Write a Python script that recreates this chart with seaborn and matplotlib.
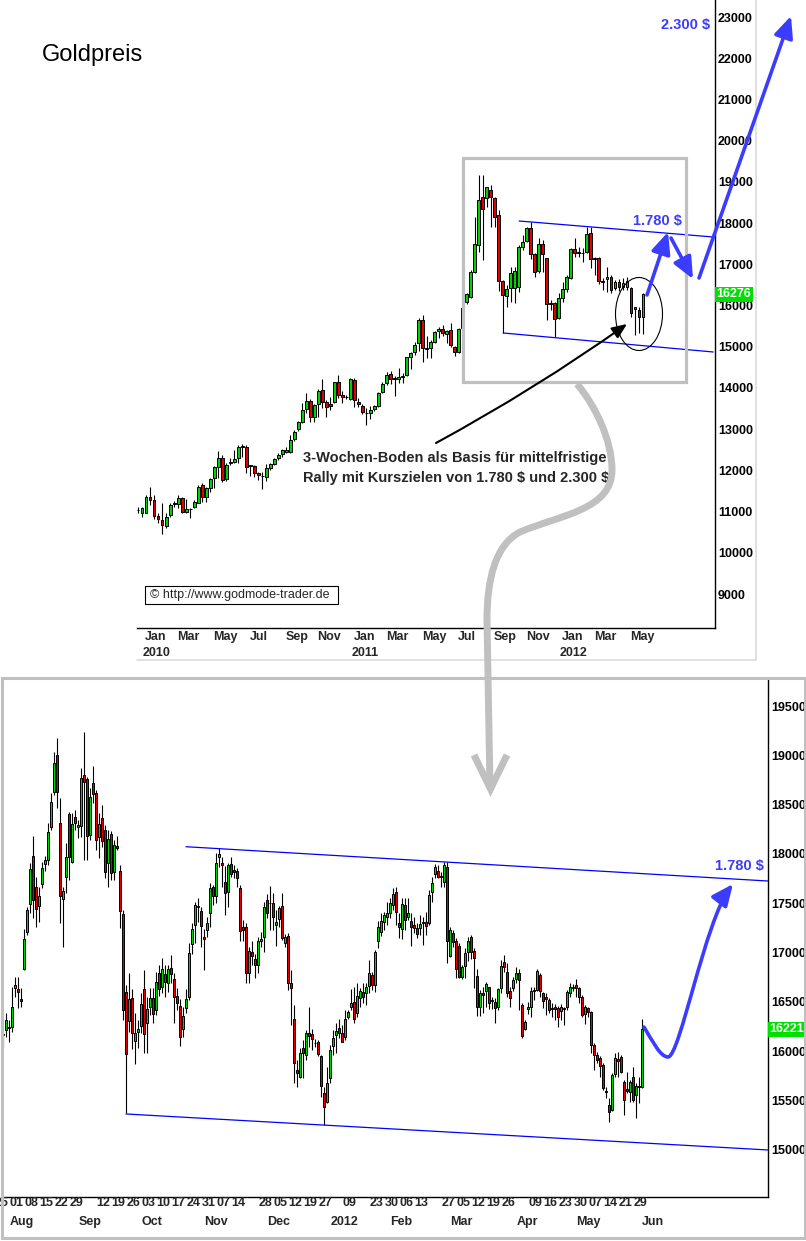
import numpy as np
import pandas as pd
import matplotlib
matplotlib.use("Agg")
import matplotlib.pyplot as plt
import matplotlib.transforms as mtransforms
from matplotlib.patches import Rectangle, Ellipse, FancyArrowPatch, PathPatch
from matplotlib.path import Path
from matplotlib.lines import Line2D
import seaborn as sns

# ------------------------------------------------------------------ data
# weekly gold price (x10 USD), Jan 2010 - end of May 2012
weekly_open = [11040,10975,10975,11363,11282,10894,10797,10651,10910,11177,
11177,11339,11000,11064,11104,11217,11646,11363,11582,11808,
12075,12293,11784,12172,12213,12293,12560,12560,12124,12107,
11929,11865,11849,12051,12156,12293,12399,12455,12455,12755,
12997,13183,13482,13693,13288,13612,13952,13669,13604,13653,
14138,13822,13782,13725,14195,13669,13572,13401,13385,13482,
13564,13895,14114,14340,14240,14227,14259,14316,14761,14882,
15101,15651,14963,14963,15125,15376,15424,15311,15408,14987,
14866,15449,16096,16217,16824,17471,18628,18604,18806,18604,
18199,16605,16233,16419,16419,16444,17414,17576,17876,17253,
16848,17495,17147,16071,16071,15691,16177,16395,16662,17366,
17301,17285,17293,17754,17147,17164,16589,16638,16703,16419,
16581,16444,16460,16419,15910,15894,15732]
weekly_high = [11120,11120,11403,11590,11403,10959,11217,10959,11201,11266,
11403,11363,11298,11080,11282,11646,11687,11590,11808,12107,
12479,12374,12188,12293,12496,12617,12641,12617,12132,12132,
11970,11970,12156,12172,12293,12415,12528,12560,12860,12981,
13208,13644,13871,13725,13612,13968,14211,13709,13790,14154,
14316,13936,13830,14235,14235,13750,13612,13507,13564,13588,
13895,14154,14397,14421,14292,14478,14356,14761,14882,15125,
15691,15772,15263,15165,15392,15489,15529,15408,15570,15020,
15449,15974,16314,16864,18159,19170,19170,18887,18927,18644,
18320,16622,16500,16945,16945,17471,17714,17916,18037,17269,
17633,17592,17164,16136,16096,16298,16581,16743,17390,17633,
17431,17390,17916,17916,17188,17188,16662,16945,16743,16622,
16638,16662,16703,16460,15974,15974,16298]
weekly_low = [10975,10862,10959,11161,10813,10732,10457,10595,10878,11120,
11080,10959,10975,10838,11080,11201,11242,11242,11484,11565,
11808,11727,11752,12132,12172,12172,12334,11929,11865,11849,
11768,11541,11752,12010,12132,12253,12334,12415,12415,12722,
12965,13143,13385,13183,13183,13288,13507,13288,13466,13628,
13750,13628,13725,13709,13531,13548,13369,13102,13240,13450,
13548,13871,14073,14098,13806,14130,14130,14292,14453,14801,
14907,14640,14720,14720,15101,15206,15263,15085,14987,14777,
14842,15408,16039,16177,16800,17309,17107,18402,17916,17916,
16363,15327,15974,16096,16055,16338,17350,17552,17123,16686,
16783,16824,15651,15894,15246,15667,16096,16338,16638,17172,
17172,17067,17269,16905,16743,16525,16379,16338,16314,16379,
16363,16379,16379,15732,15287,15327,15311]
weekly_close = [11050,11080,11363,11282,10894,10829,10667,10862,11153,11217,
11323,11000,11056,11056,11242,11590,11363,11565,11784,12075,
12293,11768,12132,12213,12269,12577,12600,12075,12107,11929,
11881,11873,12051,12156,12269,12374,12496,12496,12738,12941,
13167,13466,13693,13288,13588,13936,13669,13531,13572,14138,
13830,13774,13790,14211,13709,13604,13426,13393,13466,13564,
13871,14089,14316,14219,14230,14276,14292,14745,14858,15036,
15651,14963,14955,15125,15368,15433,15327,15392,15044,14866,
15424,15934,16274,16824,17495,18563,18337,18871,18628,18159,
16605,16258,16395,16800,16840,17414,17552,17876,17253,16824,
17495,17253,16031,16039,15683,16177,16403,16686,17374,17285,
17269,17277,17738,17131,17123,16605,16581,16686,16379,16581,
16444,16541,16605,15813,15967,15732,16276]

# daily gold price (x10 USD), 28 Jul 2011 - 1 Jun 2012
daily_open = [16160,16214,16231,16241,16637,16630,16525,16829,17212,17492,
17979,17668,17475,17695,17894,17938,18277,18632,19003,18310,
17539,17769,18402,17922,18371,18270,18283,18801,18757,18192,
18716,18615,18175,18368,18243,17911,18202,17820,18080,17827,
17387,16603,16305,16535,16106,16197,16258,16627,16282,16444,
16535,16417,16789,16654,16779,16694,16840,16728,16562,16458,
16221,16441,16552,17086,17279,17465,17421,17154,17228,17398,
17661,17573,17966,17911,17712,17610,17894,17837,17827,17651,
17255,17255,16796,17002,16931,16870,17117,17154,17529,17506,
17506,17279,17337,17472,17100,17168,16688,16322,15808,15741,
16035,15961,16180,16174,16086,16096,15950,15579,15487,15724,
16052,16163,16231,16187,16147,16343,16444,16502,16383,16535,
16603,16586,16661,16772,16671,17120,17211,17313,17357,17404,
17482,17617,17303,17235,17482,17357,17320,17279,17245,17245,
17313,17306,17296,17617,17793,17827,17769,17719,17871,16965,
17195,17120,17066,16755,16863,17009,17154,17015,16762,16444,
16586,16613,16647,16518,16502,16451,16637,16901,16799,16613,
16637,16728,16789,16468,16224,16424,16444,16610,16620,16769,
16586,16552,16518,16441,16451,16434,16410,16434,16451,16586,
16644,16671,16637,16552,16376,16434,16400,16062,15961,15927,
15859,15596,15453,15403,15768,15917,15937,15690,15612,15589,
15741,15555,15646,15633]
daily_high = [16215,16383,16316,16654,16755,16755,16637,17235,17465,17905,
18182,17769,17668,17922,17979,18310,18615,19037,19172,18564,
17668,18107,18429,18412,18446,18344,18868,19240,18784,18665,
18892,18648,18412,18496,18293,18243,18236,18141,18182,17888,
17431,16671,16796,16627,16390,16316,16586,16823,16552,16637,
16637,16806,16873,16941,16873,16873,16975,16789,16637,16525,
16451,16627,17100,17296,17516,17550,17465,17235,17357,17702,
17685,18006,18057,17972,17878,17905,17972,17888,17854,17685,
17330,17296,17059,17120,16985,17161,17212,17516,17594,17675,
17600,17431,17472,17600,17188,17195,16823,16468,15910,16028,
16113,16214,16451,16221,16120,16113,15961,15640,15842,16062,
16214,16282,16322,16265,16417,16417,16627,16654,16688,16637,
16688,16688,16924,16806,17026,17320,17398,17414,17516,17550,
17651,17668,17404,17550,17550,17550,17398,17364,17296,17381,
17364,17414,17634,17769,17898,17888,17820,17922,17922,17262,
17228,17144,17093,16873,17042,17161,17178,17042,16829,16620,
16654,16704,16654,16552,16535,16637,16924,16975,16890,16654,
16755,16850,16829,16485,16316,16502,16647,16647,16830,16789,
16603,16586,16535,16485,16478,16458,16478,16451,16620,16688,
16681,16728,16654,16569,16468,16451,16410,16079,15994,15950,
15876,15640,15521,15775,15984,15994,15961,15707,15792,15707,
15842,15673,15741,16322]
daily_low = [16045,16147,16096,16197,16552,16434,16451,16823,17178,17398,
17347,17262,17313,17651,17830,17888,18243,18598,18462,17296,
17059,17600,17736,17905,18243,18158,18175,17938,17938,18141,
18513,18040,17955,18074,17752,17668,17736,17736,18040,17245,
16316,15369,16197,16018,15866,16028,16180,15984,15978,16366,
16288,16366,16559,16586,16552,16603,16688,16288,16417,16052,
16147,16383,16518,16985,17093,17313,17059,16823,17161,17262,
17482,17499,17871,17668,17381,17458,17769,17752,17668,17120,
17120,16688,16688,16873,16738,16789,17059,17009,17347,17228,
17228,17066,17262,17127,17059,16620,16265,15673,15640,15724,
15724,15910,16045,16011,16045,15950,15538,15251,15477,15673,
15961,15984,16130,16089,16113,16322,16417,16282,16343,16451,
16485,16468,16586,16620,16603,17042,17167,17228,17279,17347,
17431,17279,17144,17134,17228,17330,17066,17195,17144,17178,
17076,17178,17279,17516,17752,17752,17668,17668,16897,16958,
17059,16738,16738,16728,16738,16917,16931,16637,16356,16356,
16383,16451,16424,16424,16288,16417,16586,16806,16552,16451,
16613,16688,16417,16130,16214,16376,16343,16518,16613,16552,
16434,16366,16383,16350,16316,16248,16316,16265,16417,16552,
16613,16552,16485,16343,16275,16343,15978,15808,15876,15741,
15606,15521,15284,15396,15741,15741,15775,15352,15572,15487,
15487,15318,15470,15623]
daily_close = [16170,16316,16248,16444,16671,16603,16512,17134,17431,17844,
17533,17441,17577,17854,17938,18219,18523,18919,18625,17577,
17627,17972,17972,18300,18317,18290,18767,18733,18185,18574,
18604,18141,18304,18135,17820,18148,17803,18091,18063,17421,
16417,15967,16525,16187,16180,16228,16478,16170,16424,16535,
16373,16704,16627,16829,16698,16829,16779,16545,16485,16140,
16360,16525,16998,17235,17482,17475,17269,17134,17296,17651,
17573,17911,17996,17888,17607,17888,17796,17820,17752,17218,
17228,16796,17019,16968,16870,17117,17134,17458,17404,17499,
17357,17313,17448,17144,17161,16694,16644,15883,15781,15984,
15978,16180,16153,16120,16079,15967,15646,15430,15673,16011,
16130,16204,16180,16096,16322,16400,16485,16326,16559,16610,
16552,16654,16789,16671,17002,17262,17323,17381,17404,17499,
17594,17414,17255,17492,17330,17404,17262,17252,17188,17286,
17303,17269,17583,17709,17864,17769,17763,17888,17120,17228,
17110,16829,16755,16850,16998,17120,17009,16948,16444,16593,
16569,16677,16491,16512,16441,16627,16863,16857,16593,16535,
16721,16796,16721,16153,16299,16451,16610,16620,16813,16613,
16512,16532,16417,16431,16424,16343,16451,16424,16603,16647,
16654,16637,16552,16363,16451,16400,16062,15961,15910,15849,
15623,15582,15386,15758,15927,15903,15785,15504,15596,15690,
15504,15646,15640,16221]

# trend channels: (candle index, price) end points
weekly_channel_upper_x = [95.1, 143.5]
weekly_channel_upper_y = [18053, 17665]
weekly_channel_lower_x = [91.1, 143.5]
weekly_channel_lower_y = [15335, 14874]
daily_channel_upper_x = [60.9, 254.9]
daily_channel_upper_y = [18073, 17725]
daily_channel_lower_x = [40.9, 254.9]
daily_channel_lower_y = [15362, 14997]

# axis ticks and labels
top_yticks = list(range(9000, 23001, 1000))
bottom_yticks = list(range(15000, 19501, 500))
top_month_labels = ["Jan", "Mar", "May", "Jul", "Sep", "Nov", "Jan", "Mar", "May",
                    "Jul", "Sep", "Nov", "Jan", "Mar", "May"]
top_month_weeks = [0, 8, 17, 26, 35, 43, 52, 60, 69, 78, 87, 95, 104, 112, 121]
top_year_labels = ["2010", "2011", "2012"]
top_year_weeks = [0, 52, 104]
bottom_month_labels = ["Aug", "Sep", "Oct", "Nov", "Dec", "2012", "Feb", "Mar", "Apr", "May", "Jun"]
bottom_month_days = [2, 25, 46, 67, 88, 109, 129, 149, 171, 191, 213]
bottom_day_labels = ["25", "01", "08", "15", "22", "29",
                     "12", "19", "26", "03", "10", "17", "24", "31", "07", "14",
                     "28", "05", "12", "19", "27", "09", "23", "30", "06", "13",
                     "27", "05", "12", "19", "26",
                     "09", "16", "23", "30", "07", "14", "21", "29"]
bottom_day_index = [-3, 2, 7, 12, 17, 22,
                    31, 36, 41, 46, 51, 56, 61, 66, 71, 76,
                    85, 90, 95, 100, 105, 113, 122, 127, 132, 137,
                    146, 151, 156, 161, 166,
                    175, 180, 185, 190, 195, 200, 205, 210]
title_text = "Goldpreis"
note_lines = ["3-Wochen-Boden als Basis für mittelfristige",
              "Rally mit Kurszielen von 1.780 $ und 2.300 $"]
target_1 = "1.780 $"
target_2 = "2.300 $"
copyright_text = "\u00a9 http://www.godmode-trader.de"

# ------------------------------------------------------------------ style
sns.set_theme(style="white")
plt.rcParams['font.family'] = ['Liberation Sans', 'DejaVu Sans']

W, H = 806, 1241
fig = plt.figure(figsize=(W / 100, H / 100), dpi=100)
fig.patch.set_facecolor('white')
PX = mtransforms.Affine2D().scale(1.0 / W, -1.0 / H).translate(0, 1) + fig.transFigure

UP = '#00d200'
DOWN = '#e00000'
BLUE = '#3c3cff'
LINE_BLUE = '#0000ff'
GRAY = '#c0c0c0'
LABEL_GREEN = '#00e000'


def draw_candles(ax, o, h, l, c, width, min_body):
    df = pd.DataFrame({'open': o, 'high': h, 'low': l, 'close': c})
    df['x'] = np.arange(len(df))
    up = df['close'] >= df['open']
    ax.vlines(df['x'], df['low'], df['high'], color='black', linewidth=0.8, zorder=2)
    bottom = df[['open', 'close']].min(axis=1)
    height = (df['close'] - df['open']).abs().clip(lower=min_body)
    ax.bar(df['x'], height, width=width, bottom=bottom,
           color=np.where(up, UP, DOWN), edgecolor='black', linewidth=0.7, zorder=3)


def style_axes(ax):
    ax.set_facecolor('white')
    ax.patch.set_alpha(0)
    ax.grid(False)
    for s in ['left', 'top']:
        ax.spines[s].set_visible(False)
    for s in ['right', 'bottom']:
        ax.spines[s].set_visible(True)
        ax.spines[s].set_color('black')
        ax.spines[s].set_linewidth(1.0)
    ax.yaxis.tick_right()
    ax.tick_params(axis='y', length=0, pad=2, labelsize=9, colors='black')
    ax.set_xticks([])
    ax.set_xlabel('')
    ax.set_ylabel('')


# ------------------------------------------------------------------ top panel (weekly)
ax1 = fig.add_axes([137 / W, 1 - 628 / H, 578 / W, 628 / H])
draw_candles(ax1, weekly_open, weekly_high, weekly_low, weekly_close, 0.72, 10)
sns.lineplot(x=weekly_channel_upper_x, y=weekly_channel_upper_y, ax=ax1,
             color=LINE_BLUE, linewidth=0.9, legend=False, zorder=4)
sns.lineplot(x=weekly_channel_lower_x, y=weekly_channel_lower_y, ax=ax1,
             color=LINE_BLUE, linewidth=0.9, legend=False, zorder=4)
ax1.set_xlim(-0.25, 143.96)
ax1.set_ylim(8175, 23417)
style_axes(ax1)
ax1.set_yticks(top_yticks)
ax1.set_yticklabels([str(v) for v in top_yticks], fontweight='bold')

xt1 = ax1.get_xaxis_transform()
for lab, wk in zip(top_month_labels, top_month_weeks):
    ax1.text(wk + 1.8, -0.0143, lab, transform=xt1, ha='left', va='center',
             fontsize=9, fontweight='bold', clip_on=False)
for lab, wk in zip(top_year_labels, top_year_weeks):
    ax1.text(wk + 1.2, -0.040, lab, transform=xt1, ha='left', va='center',
             fontsize=9, fontweight='bold', clip_on=False)

ax1.text(1.003, weekly_close[-1], str(weekly_close[-1]), transform=ax1.get_yaxis_transform(),
         ha='left', va='center', fontsize=9, fontweight='bold', color='white', zorder=6,
         clip_on=False, bbox=dict(boxstyle='square,pad=0.12', fc=LABEL_GREEN, ec='none'))

# ------------------------------------------------------------------ bottom panel (daily)
ax2 = fig.add_axes([3 / W, 1 - 1197 / H, 765 / W, 517 / H])
draw_candles(ax2, daily_open, daily_high, daily_low, daily_close, 0.72, 8)
sns.lineplot(x=daily_channel_upper_x, y=daily_channel_upper_y, ax=ax2,
             color=LINE_BLUE, linewidth=0.9, legend=False, zorder=4)
sns.lineplot(x=daily_channel_lower_x, y=daily_channel_lower_y, ax=ax2,
             color=LINE_BLUE, linewidth=0.9, legend=False, zorder=4)
ax2.set_xlim(-0.1, 254.9)
ax2.set_ylim(14520, 19764)
style_axes(ax2)
ax2.set_yticks(bottom_yticks)
ax2.set_yticklabels([str(v) for v in bottom_yticks], fontweight='bold')

xt2 = ax2.get_xaxis_transform()
for lab, idx in zip(bottom_day_labels, bottom_day_index):
    ax2.text(idx, -0.0116, lab, transform=xt2, ha='left', va='center',
             fontsize=9, fontweight='bold', clip_on=False)
for lab, idx in zip(bottom_month_labels, bottom_month_days):
    ax2.text(idx, -0.0484, lab, transform=xt2, ha='left', va='center',
             fontsize=9, fontweight='bold', clip_on=False)

ax2.text(1.002, daily_close[-1], str(daily_close[-1]), transform=ax2.get_yaxis_transform(),
         ha='left', va='center', fontsize=9, fontweight='bold', color='white', zorder=6,
         clip_on=False, bbox=dict(boxstyle='square,pad=0.12', fc=LABEL_GREEN, ec='none'))

# ------------------------------------------------------------------ annotations (pixel layout)
# light frame of the top chart window
fig.add_artist(Line2D([756, 756], [0, 660], transform=PX, color='#dcdcdc', lw=1.2))
fig.add_artist(Line2D([137, 756], [660, 660], transform=PX, color='#dcdcdc', lw=1.2))
# frame of the lower chart window
fig.add_artist(Rectangle((1.5, 677.5), 803, 560, transform=PX, fill=False, ec=GRAY, lw=2.2))

fig.text(42, 55, title_text, transform=PX, fontsize=17, ha='left', va='center', color='black')

# grey box around the consolidation
fig.add_artist(Rectangle((463, 158), 223, 224, transform=PX, fill=False, ec=GRAY, lw=2.3))
# ellipse around the 3-week bottom
fig.add_artist(Ellipse((639, 314), 47, 73, transform=PX, fill=False, ec='black', lw=0.8))

# black arrow from the note to the bottom
fig.add_artist(FancyArrowPatch((436, 443), (627, 324), transform=PX,
                               connectionstyle='arc3,rad=0.03',
                               arrowstyle='-|>,head_length=9,head_width=3.8',
                               mutation_scale=1, color='black', lw=1.5,
                               shrinkA=0, shrinkB=0))
fig.text(303, 458, note_lines[0], transform=PX, fontsize=10.5, fontweight='bold',
         ha='left', va='center', parse_math=False)
fig.text(303, 478, note_lines[1], transform=PX, fontsize=10.5, fontweight='bold',
         ha='left', va='center', parse_math=False)

# blue projection arrows (top)
blue_style = '-|>,head_length=13,head_width=5.8'
for (a, b) in [((647, 295), (668, 232)), ((671, 238), (693, 279)), ((699, 278), (791, 16))]:
    fig.add_artist(FancyArrowPatch(a, b, transform=PX, arrowstyle=blue_style,
                                   mutation_scale=1, color=BLUE, lw=2.6,
                                   shrinkA=0, shrinkB=0, zorder=6))
fig.text(657, 221, target_1, transform=PX, fontsize=10.5, fontweight='bold',
         color=BLUE, ha='center', va='center', parse_math=False)
fig.text(686, 25, target_2, transform=PX, fontsize=10.5, fontweight='bold',
         color=BLUE, ha='center', va='center', parse_math=False)

# copyright box
fig.add_artist(Rectangle((145, 586), 193, 18, transform=PX, fill=False, ec='black', lw=0.8))
fig.text(150, 595, copyright_text, transform=PX, fontsize=9, ha='left', va='center')

# big grey connector arrow from the top box to the lower chart
gverts = [(577, 384), (595, 405), (612, 440), (612, 470),
          (612, 510), (560, 515), (520, 532),
          (495, 545), (487, 580), (487, 620),
          (490, 788)]
gcodes = [Path.MOVETO, Path.CURVE4, Path.CURVE4, Path.CURVE4,
          Path.CURVE4, Path.CURVE4, Path.CURVE4,
          Path.CURVE4, Path.CURVE4, Path.CURVE4,
          Path.LINETO]
fig.add_artist(PathPatch(Path(gverts, gcodes), transform=PX, fill=False, ec=GRAY,
                         lw=5, capstyle='butt', zorder=5))
fig.add_artist(Line2D([474, 490.5, 507], [755, 789, 755], transform=PX, color=GRAY,
                      lw=5, solid_joinstyle='miter', solid_capstyle='butt', zorder=5))

# blue curved projection (bottom)
bverts = [(644, 1027), (652, 1040), (660, 1057), (668, 1057),
          (680, 1057), (705, 920), (733, 884)]
bcodes = [Path.MOVETO, Path.CURVE4, Path.CURVE4, Path.CURVE4,
          Path.CURVE4, Path.CURVE4, Path.CURVE4]
fig.add_artist(FancyArrowPatch(path=Path(bverts, bcodes), transform=PX,
                               arrowstyle=blue_style, mutation_scale=1,
                               color=BLUE, lw=2.6, zorder=6))
fig.text(739, 866, target_1, transform=PX, fontsize=10.5, fontweight='bold',
         color=BLUE, ha='center', va='center', parse_math=False)

fig.savefig("out.png", dpi=100, facecolor='white')
